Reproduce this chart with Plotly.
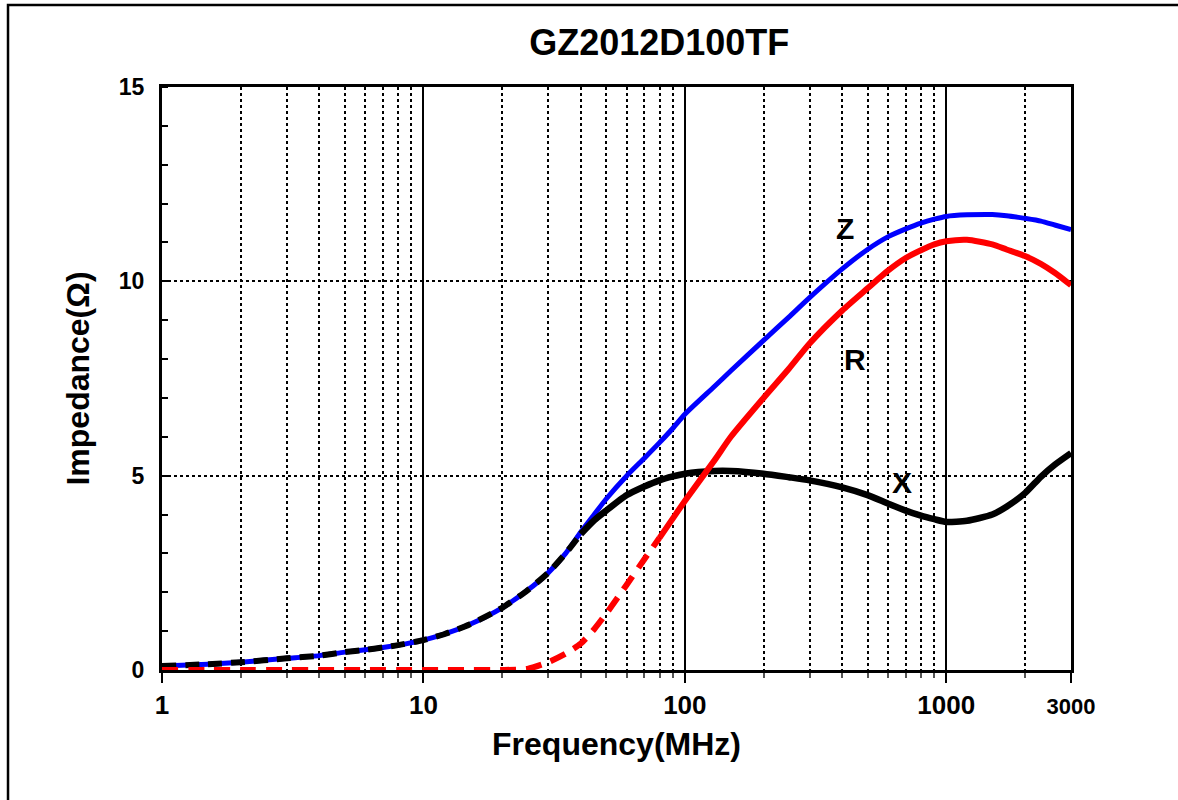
import math
import plotly.graph_objects as go

# ---- data ----
freq_mhz = [1, 1.5, 2, 3, 4, 5, 6, 7, 8, 10, 12, 15, 20, 25, 30, 35, 40, 45, 50, 60,
            70, 80, 90, 100, 130, 150, 200, 250, 300, 400, 500, 600, 700, 800, 900,
            1000, 1200, 1500, 1700, 2000, 2300, 2600, 3000]

z_ohm = [0.10, 0.15, 0.20, 0.30, 0.37, 0.46, 0.52, 0.58, 0.64, 0.77, 0.92, 1.17, 1.60,
         2.05, 2.50, 3.00, 3.55, 4.00, 4.40, 5.00, 5.45, 5.85, 6.22, 6.58, 7.30, 7.70,
         8.48, 9.08, 9.58, 10.32, 10.82, 11.15, 11.35, 11.50, 11.60, 11.67, 11.71,
         11.72, 11.69, 11.62, 11.55, 11.45, 11.33]

x_ohm = [0.10, 0.15, 0.20, 0.30, 0.37, 0.46, 0.52, 0.58, 0.64, 0.77, 0.92, 1.17, 1.60,
         2.05, 2.50, 3.00, 3.50, 3.85, 4.10, 4.50, 4.72, 4.88, 4.98, 5.05, 5.12, 5.12,
         5.05, 4.96, 4.88, 4.70, 4.50, 4.28, 4.10, 3.97, 3.88, 3.81, 3.84, 4.00, 4.20,
         4.55, 4.97, 5.28, 5.58]

r_ohm = [0.0, 0.0, 0.0, 0.0, 0.0, 0.0, 0.0, 0.0, 0.0, 0.0, 0.0, 0.0, 0.0, 0.03, 0.20,
         0.42, 0.68, 1.05, 1.45, 2.20, 2.85, 3.40, 3.90, 4.35, 5.40, 6.00, 7.00, 7.75,
         8.40, 9.25, 9.82, 10.28, 10.60, 10.80, 10.95, 11.03, 11.07, 10.95, 10.82,
         10.65, 10.45, 10.22, 9.90]

# frequency where the dashed (low range) part of each measurement ends
x_dash_end_mhz = 40
r_dash_end_mhz = 80

x_tick_vals = [1, 10, 100, 1000, 3000]
x_tick_text = ["1", "10", "100", "1000", "<span style='font-size:22px'>3000</span>"]
x_minor_vals = [2, 3, 4, 5, 6, 7, 8, 9, 20, 30, 40, 50, 60, 70, 80, 90,
                200, 300, 400, 500, 600, 700, 800, 900, 2000]
y_tick_vals = [0, 5, 10, 15]

curve_labels = [("Z", 409, 11.36), ("R", 447, 8.0), ("X", 676, 4.82)]

title_text = "GZ2012D100TF"
x_title = "Frequency(MHz)"
y_title = "Impedance(Ω)"

FONT = "Arial, 'Liberation Sans', sans-serif"


def split(freqs, vals, end):
    lo_f = [f for f in freqs if f <= end]
    lo_v = [v for f, v in zip(freqs, vals) if f <= end]
    hi_f = [f for f in freqs if f >= end]
    hi_v = [v for f, v in zip(freqs, vals) if f >= end]
    return lo_f, lo_v, hi_f, hi_v


SMOOTH = 0.6
fig = go.Figure()

# Z (blue, solid)
fig.add_trace(go.Scatter(x=freq_mhz, y=z_ohm, mode="lines",
                         line=dict(color="#0000ff", width=5, shape="spline", smoothing=SMOOTH),
                         showlegend=False))

# X (black): dashed at low frequency, solid above
xf_lo, xv_lo, xf_hi, xv_hi = split(freq_mhz, x_ohm, x_dash_end_mhz)
fig.add_trace(go.Scatter(x=xf_lo, y=xv_lo, mode="lines",
                         line=dict(color="black", width=6, dash="14px,9px",
                                   shape="spline", smoothing=SMOOTH),
                         showlegend=False))
fig.add_trace(go.Scatter(x=xf_hi, y=xv_hi, mode="lines",
                         line=dict(color="black", width=6.5, shape="spline", smoothing=SMOOTH),
                         showlegend=False))

# R (red): dashed at low frequency, solid above
rf_lo, rv_lo, rf_hi, rv_hi = split(freq_mhz, r_ohm, r_dash_end_mhz)
fig.add_trace(go.Scatter(x=rf_lo, y=rv_lo, mode="lines",
                         line=dict(color="#ff0000", width=6, dash="16px,10px",
                                   shape="spline", smoothing=SMOOTH),
                         showlegend=False))
fig.add_trace(go.Scatter(x=rf_hi, y=rv_hi, mode="lines",
                         line=dict(color="#ff0000", width=6, shape="spline", smoothing=SMOOTH),
                         showlegend=False))

for txt, fx, fy in curve_labels:
    fig.add_annotation(x=math.log10(fx), y=fy, text=txt, showarrow=False,
                       font=dict(family=FONT, size=30, color="black", weight="bold"))

# outer frame of the picture
fig.add_shape(type="rect", xref="paper", yref="paper",
              x0=-0.1694, y0=-1.0, x1=2.0, y1=1.1407,
              line=dict(color="black", width=2.5), layer="above")

fig.update_layout(
    width=1178, height=800,
    margin=dict(l=162, r=107, t=87, b=130, autoexpand=False),
    paper_bgcolor="white", plot_bgcolor="white",
    title=dict(text=title_text, x=0.547, xref="paper", y=1 - 42 / 800, yref="container",
               xanchor="center", yanchor="middle",
               font=dict(family=FONT, size=36, color="black", weight="bold")),
    font=dict(family=FONT, color="black"),
)

fig.update_xaxes(
    type="log", range=[0, math.log10(3000)], automargin=False,
    tickvals=x_tick_vals, ticktext=x_tick_text,
    tickfont=dict(family=FONT, size=26, color="black", weight="bold"),
    ticks="outside", ticklen=10, tickwidth=2, tickcolor="black",
    showgrid=True, gridcolor="black", gridwidth=1.5,
    minor=dict(tickvals=x_minor_vals, showgrid=True, gridcolor="black",
               griddash="dot", gridwidth=1.5, ticks="outside", ticklen=5,
               tickcolor="#555555", tickwidth=1.5),
    showline=True, linecolor="black", linewidth=3, mirror=True,
    layer="below traces", zeroline=False,
    title=dict(text=x_title, standoff=14,
               font=dict(family=FONT, size=32, color="black", weight="bold")),
)

fig.update_yaxes(
    range=[0, 15], tickvals=y_tick_vals, automargin=False,
    tickfont=dict(family=FONT, size=23, color="black", weight="bold"),
    ticks="", ticklabelstandoff=10,
    showgrid=True, gridcolor="black", gridwidth=1.5, griddash="dot",
    minor=dict(dtick=1, ticks="inside", ticklen=6, tickcolor="black", tickwidth=1.5,
               showgrid=False),
    showline=True, linecolor="black", linewidth=3, mirror=True,
    layer="below traces", zeroline=False,
    title=dict(text=y_title, standoff=20,
               font=dict(family=FONT, size=32, color="black", weight="bold")),
)

fig.write_html("out.html", config={"displayModeBar": False},
               post_script="document.body.style.margin='0';document.body.style.overflow='hidden';")
